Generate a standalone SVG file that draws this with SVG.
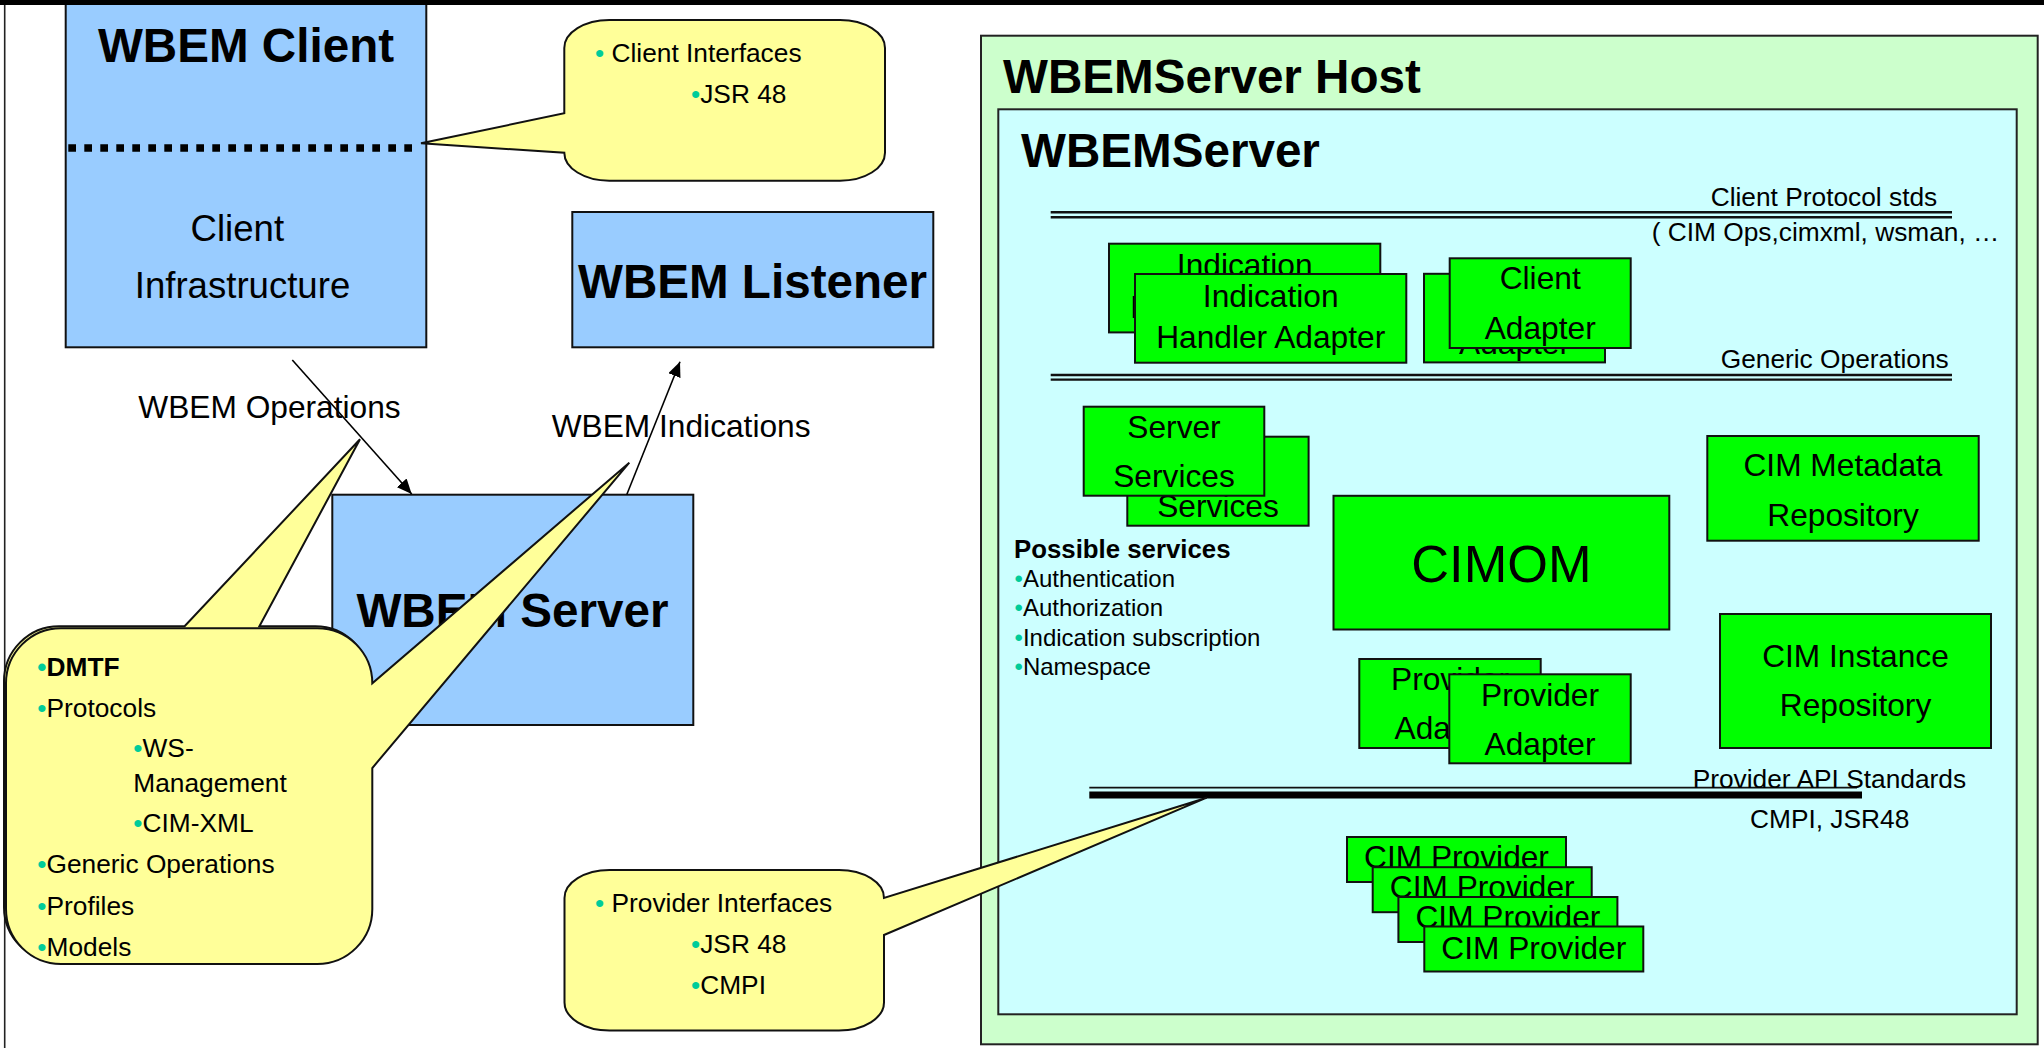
<svg xmlns="http://www.w3.org/2000/svg" width="2044" height="1048" viewBox="0 0 2044 1048">
<style>
text{font-family:"Liberation Sans",Arial,Helvetica,sans-serif;fill:#000}
.big{font-size:47.6px;font-weight:bold}
.mid{font-size:31.7px}
.cl{font-size:36.6px}
.sm{font-size:26.3px}
.xs{font-size:24px}
.pb{font-size:25.8px;font-weight:bold}
.cimom{font-size:52.3px}
.mc{text-anchor:middle}
.b{fill:#00CC99}
.blue{fill:#99CCFF;stroke:#111;stroke-width:2}
.grn{fill:#00FF00;stroke:#111;stroke-width:2}
.yel{fill:#FFFF99;stroke:#111;stroke-width:2;stroke-linejoin:miter}
.con{stroke:#000;stroke-width:1.6;fill:none}
.dbl{stroke:#111;stroke-width:2.4}
</style>
<defs>
<marker id="ah" viewBox="0 0 15 13" refX="15" refY="6.5" markerWidth="15" markerHeight="13" orient="auto" markerUnits="userSpaceOnUse">
<path d="M0,0 L15,6.5 L0,13 Z" fill="#000"/>
</marker>
</defs>
<rect x="0" y="0" width="2044" height="1048" fill="#FFFFFF"/>
<line x1="4.7" y1="0" x2="4.7" y2="1048" stroke="#222" stroke-width="1.6"/>

<g id="wbem-client">
<rect class="blue" x="65.7" y="2" width="360.6" height="345.3"/>
<text class="big mc" x="246" y="61.7">WBEM Client</text>
<line x1="68.3" y1="148" x2="414" y2="148" stroke="#000" stroke-width="7.5" stroke-dasharray="7.7 8.3"/>
<text class="cl mc" x="237.3" y="240.7">Client</text>
<text class="cl mc" x="242.5" y="298.3">Infrastructure</text>
</g>

<g id="wbem-listener">
<rect class="blue" x="572.3" y="212" width="361" height="135.3"/>
<text class="big mc" x="752.5" y="297.7">WBEM Listener</text>
</g>

<g id="wbem-server">
<rect class="blue" x="332.3" y="494.7" width="361" height="230.3"/>
<text class="big mc" x="512.5" y="626.7">WBEM Server</text>
</g>

<g id="connectors">
<line class="con" x1="292.3" y1="360" x2="411.7" y2="494" marker-end="url(#ah)"/>
<line class="con" x1="626.7" y1="494.7" x2="680" y2="361.7" marker-end="url(#ah)"/>
<line class="con" x1="1470" y1="763.3" x2="1470" y2="821.7" marker-end="url(#ah)"/>
</g>

<g id="label-operations">
<text class="mid" x="138.3" y="418.3">WBEM Operations</text>
</g>
<g id="label-indications">
<text class="mid" x="551.7" y="436.7">WBEM Indications</text>
</g>

<g id="callout-operations">
<path class="yel" d="M59 626.3 H184.6 L360 439.3 L259.4 626.3 H315.3 A55 55 0 0 1 370.3 681.3 V907 A55 55 0 0 1 315.3 962 H59 A55 55 0 0 1 4 907 V681.3 A55 55 0 0 1 59 626.3 Z"/>
</g>

<g id="callout-dmtf">
<path class="yel" d="M61 628.3 H317.3 A55 55 0 0 1 372.3 683.3 L629.3 462.7 L372.3 768 V909 A55 55 0 0 1 317.3 964 H61 A55 55 0 0 1 6 909 V683.3 A55 55 0 0 1 61 628.3 Z"/>
<text class="sm" x="37.3" y="676" font-weight="bold"><tspan class="b">•</tspan>DMTF</text>
<text class="sm" x="37.3" y="717.3"><tspan class="b">•</tspan>Protocols</text>
<text class="sm" x="133.3" y="757.3"><tspan class="b">•</tspan>WS-</text>
<text class="sm" x="133.3" y="791.7">Management</text>
<text class="sm" x="133.3" y="831.7"><tspan class="b">•</tspan>CIM-XML</text>
<text class="sm" x="37.3" y="873.3"><tspan class="b">•</tspan>Generic Operations</text>
<text class="sm" x="37.3" y="915"><tspan class="b">•</tspan>Profiles</text>
<text class="sm" x="37.3" y="956"><tspan class="b">•</tspan>Models</text>
</g>

<g id="callout-client-interfaces">
<path class="yel" d="M609.3 20 H840 A45 28 0 0 1 885 48 V152.7 A45 28 0 0 1 840 180.7 H609.3 A45 28 0 0 1 564.3 152.7 L421 143.3 L564.3 113.3 V48 A45 28 0 0 1 609.3 20 Z"/>
<text class="sm" x="595" y="61.7"><tspan class="b">•</tspan> Client Interfaces</text>
<text class="sm" x="691" y="103.3"><tspan class="b">•</tspan>JSR 48</text>
</g>

<g id="wbemserver-host">
<rect x="981" y="35.7" width="1056.7" height="1008.6" fill="#CCFFCC" stroke="#222" stroke-width="2"/>
<text class="big" x="1003" y="93.3">WBEMServer Host</text>
</g>

<g id="wbemserver">
<rect x="998.3" y="109.3" width="1018.4" height="905" fill="#CCFFFF" stroke="#222" stroke-width="2"/>
<text class="big" x="1021" y="166.7">WBEMServer</text>
<line class="dbl" x1="1050.7" y1="212.2" x2="1952" y2="212.2"/>
<line class="dbl" x1="1050.7" y1="217.2" x2="1952" y2="217.2"/>
<text class="sm" x="1710.7" y="206">Client Protocol stds</text>
<text class="sm" x="1651.7" y="241.3">( CIM Ops,cimxml, wsman, …</text>
<line class="dbl" x1="1050.7" y1="375" x2="1952" y2="375"/>
<line class="dbl" x1="1050.7" y1="379.6" x2="1952" y2="379.6"/>
<text class="sm" x="1720.7" y="368.3">Generic Operations</text>
<line x1="1089.3" y1="787.7" x2="1857" y2="787.7" stroke="#111" stroke-width="1.8"/>
<line x1="1089.3" y1="795" x2="1862" y2="795" stroke="#000" stroke-width="7"/>
<text class="sm" x="1692.7" y="788.3">Provider API Standards</text>
<text class="sm" x="1750" y="828.3">CMPI, JSR48</text>
</g>

<g id="indication-handler-adapter-back">
<rect class="grn" x="1109" y="243.7" width="271.3" height="88.7"/>
<text class="mid mc" x="1244.7" y="276.4">Indication</text>
<text class="mid mc" x="1244.7" y="318">Handler Adapter</text>
</g>
<g id="indication-handler-adapter">
<rect class="grn" x="1135" y="274" width="271.3" height="88.7"/>
<text class="mid mc" x="1270.7" y="306.7">Indication</text>
<text class="mid mc" x="1270.7" y="348.3">Handler Adapter</text>
</g>

<g id="client-adapter-back">
<rect class="grn" x="1424" y="273.8" width="181" height="88.6"/>
<text class="mid mc" x="1514.5" y="304.6">Client</text>
<text class="mid mc" x="1514.5" y="354.3">Adapter</text>
</g>
<g id="client-adapter">
<rect class="grn" x="1449.7" y="258.3" width="181" height="89.7"/>
<text class="mid mc" x="1540.2" y="289.3">Client</text>
<text class="mid mc" x="1540.2" y="339.3">Adapter</text>
</g>

<g id="server-services-back">
<rect class="grn" x="1127.3" y="436.7" width="181.3" height="89"/>
<text class="mid mc" x="1218" y="468.3">Server</text>
<text class="mid mc" x="1218" y="516.7">Services</text>
</g>
<g id="server-services">
<rect class="grn" x="1083.7" y="406.7" width="180.6" height="89"/>
<text class="mid mc" x="1174" y="438.3">Server</text>
<text class="mid mc" x="1174" y="487.3">Services</text>
</g>

<g id="possible-services">
<text class="pb" x="1014" y="557.7">Possible services</text>
<text class="xs" x="1014.5" y="586.7"><tspan class="b">•</tspan>Authentication</text>
<text class="xs" x="1014.5" y="615.7"><tspan class="b">•</tspan>Authorization</text>
<text class="xs" x="1014.5" y="645.7"><tspan class="b">•</tspan>Indication subscription</text>
<text class="xs" x="1014.5" y="674.5"><tspan class="b">•</tspan>Namespace</text>
</g>

<g id="cimom">
<rect class="grn" x="1333.5" y="495.8" width="335.8" height="133.7"/>
<text class="cimom mc" x="1501.4" y="582">CIMOM</text>
</g>

<g id="cim-metadata-repository">
<rect class="grn" x="1707.3" y="436" width="271.4" height="104.7"/>
<text class="mid mc" x="1843" y="475.5">CIM Metadata</text>
<text class="mid mc" x="1843" y="525.5">Repository</text>
</g>

<g id="cim-instance-repository">
<rect class="grn" x="1720" y="614" width="271" height="134"/>
<text class="mid mc" x="1855.5" y="666.7">CIM Instance</text>
<text class="mid mc" x="1855.5" y="716">Repository</text>
</g>

<g id="provider-adapter-back">
<rect class="grn" x="1359.3" y="659" width="181.4" height="89"/>
<text class="mid mc" x="1450" y="690">Provider</text>
<text class="mid mc" x="1450" y="739.3">Adapter</text>
</g>
<g id="provider-adapter">
<rect class="grn" x="1449.3" y="674.3" width="181.4" height="89"/>
<text class="mid mc" x="1540" y="705.6">Provider</text>
<text class="mid mc" x="1540" y="755">Adapter</text>
</g>

<g id="cim-provider-1">
<rect class="grn" x="1347" y="837" width="219" height="45"/>
<text class="mid mc" x="1456.5" y="867.5">CIM Provider</text>
</g>
<g id="cim-provider-2">
<rect class="grn" x="1372.7" y="867.2" width="219" height="45"/>
<text class="mid mc" x="1482.2" y="897.5">CIM Provider</text>
</g>
<g id="cim-provider-3">
<rect class="grn" x="1398.4" y="897" width="219" height="45"/>
<text class="mid mc" x="1507.9" y="927.5">CIM Provider</text>
</g>
<g id="cim-provider-4">
<rect class="grn" x="1424.3" y="926.5" width="219" height="45"/>
<text class="mid mc" x="1533.8" y="958.5">CIM Provider</text>
</g>

<g id="callout-provider-interfaces">
<path class="yel" d="M609.5 870 H839 A45 28 0 0 1 884 898 L1206.7 797.7 L884 935 V1002.5 A45 28 0 0 1 839 1030.5 H609.5 A45 28 0 0 1 564.5 1002.5 V898 A45 28 0 0 1 609.5 870 Z"/>
<text class="sm" x="595" y="911.5"><tspan class="b">•</tspan> Provider Interfaces</text>
<text class="sm" x="691" y="953.3"><tspan class="b">•</tspan>JSR 48</text>
<text class="sm" x="691" y="994"><tspan class="b">•</tspan>CMPI</text>
</g>

<rect x="0" y="0" width="2044" height="5" fill="#000"/>
</svg>
